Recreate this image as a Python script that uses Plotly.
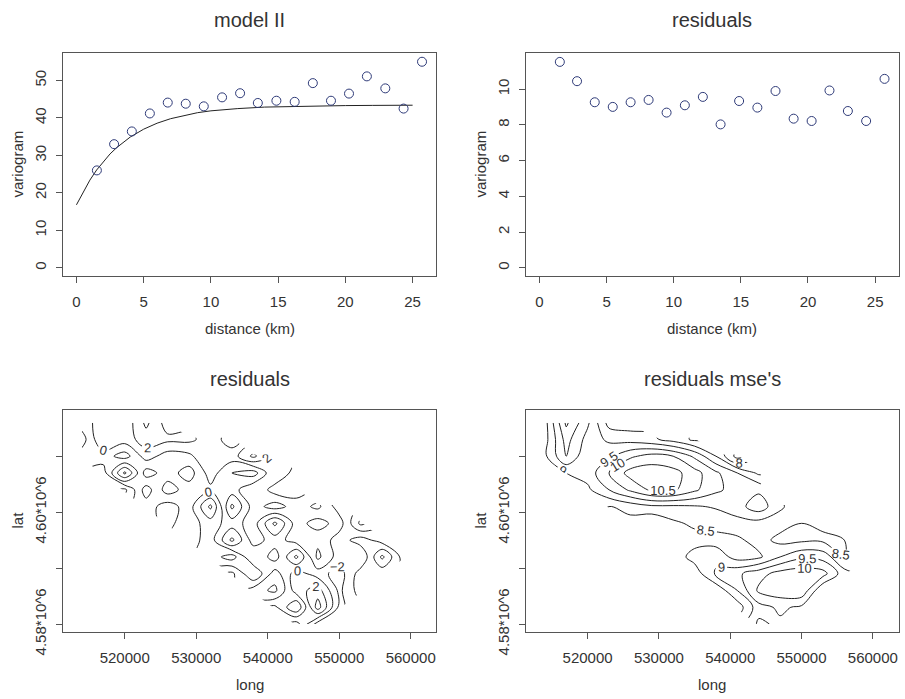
import plotly.graph_objects as go

# ---------------- data ----------------
distance_km = [1.52, 2.80, 4.12, 5.46, 6.79, 8.13, 9.47, 10.83, 12.17, 13.49,
               14.87, 16.23, 17.58, 18.93, 20.27, 21.60, 22.97, 24.33, 25.70]
variogram_model = [26.0, 33.0, 36.4, 41.2, 44.1, 43.8, 43.1, 45.5, 46.6, 44.0,
                   44.6, 44.3, 49.3, 44.6, 46.5, 51.1, 47.9, 42.5, 55.0]
variogram_resid = [11.53, 10.45, 9.27, 9.01, 9.27, 9.40, 8.69, 9.10, 9.57, 8.03,
                   9.34, 8.97, 9.90, 8.35, 8.22, 9.93, 8.78, 8.22, 10.58]
fit_distance = [0, 0.5, 1, 1.5, 2, 2.5, 3, 4, 5, 6, 7, 8, 9, 10, 12, 14, 16, 18, 20, 22, 25]
fit_variogram = [16.8, 20.3, 23.4, 26.1, 28.4, 30.4, 32.1, 34.9, 37.0, 38.6, 39.8,
                 40.7, 41.4, 41.9, 42.5, 42.9, 43.1, 43.25, 43.3, 43.35, 43.4]

grid_long = [514000, 517000, 520000, 523000, 526000, 529000, 532000, 535000,
             538000, 541000, 544000, 547000, 550000, 553000, 556000, 559000]
grid_lat = [4580000, 4583000, 4586000, 4589000, 4592000, 4595000, 4598000,
            4601000, 4604000, 4607000, 4610000, 4613000, 4616000]

N = None
residual_grid = [
    [N, N, N, N, N, N, N, N, N, N, 3, -3, N, N, N, N],
    [N, N, N, N, N, N, N, N, N, 0.5, -4, 5, -2.5, N, N, N],
    [N, N, N, N, N, N, N, N, -3, -4.5, 1, 3, -2.5, 1, N, N],
    [N, N, N, N, N, N, N, -2.5, 2, -3, 1, -1, -3, 1, 0.5, N],
    [N, N, N, N, N, N, 1, 3, -2, 1, -4.5, 2.5, -1, -2, 4.5, -1],
    [N, N, N, N, N, -1, 1, -4.5, 1, -1, 1, 1.5, -1, 1, -1, N],
    [N, N, N, N, 0.5, -1, 1, -1, 1, -4.5, 1, -1, 1, -4.5, N, N],
    [N, N, N, -1, 1, -1, 4.5, -4.5, 1, 3, 1, 2.5, -1, N, N, N],
    [N, N, -4.5, 1, -3, -1, -0.5, -1, 2, -1, -1, N, N, N, N, N],
    [N, -3, 4.5, -3, -1, -3, 1, -2, -3, 2, -1, N, N, N, N, N],
    [-1, -1, -3, 1, -1, -0.5, 2, 1, 4.5, 1, N, N, N, N, N, N],
    [-3, 2, 1, 3, 2.5, 2.5, 1, -1, N, N, N, N, N, N, N, N],
    [-1, 1, 0.5, 4.5, 1, N, N, N, N, N, N, N, N, N, N, N],
]
mse_grid = [
    [N, N, N, N, N, N, N, N, N, N, 9.6, 9.4, N, N, N, N],
    [N, N, N, N, N, N, N, N, N, 8.2, 9.3, 9.6, 9.4, N, N, N],
    [N, N, N, N, N, N, N, N, 8.1, 9.0, 10.1, 10.3, 10.4, 9.0, N, N],
    [N, N, N, N, N, N, N, 8.2, 9.1, 9.4, 9.8, 10.2, 10.3, 10.2, 9.2, N],
    [N, N, N, N, N, N, 8.2, 8.7, 8.8, 8.3, 8.4, 9.0, 9.4, 9.3, 8.5, 8.7],
    [N, N, N, N, N, 8.1, 8.5, 8.3, 8.3, 8.4, 8.7, 8.35, 8.4, 8.4, 8.5, N],
    [N, N, N, N, 8.3, 8.0, 8.4, 8.6, 8.7, 8.8, 8.8, 8.7, 8.5, 8.6, N, N],
    [N, N, N, 8.5, 8.7, 8.9, 8.9, 8.95, 9.05, 9.3, 9.8, 9.1, 8.6, N, N, N],
    [N, N, 8.9, 9.5, 10.1, 10.6, 10.6, 10.1, 9.6, 9.3, 9.4, N, N, N, N, N],
    [N, 9.0, 9.2, 10.0, 10.7, 10.8, 10.7, 10.2, 9.6, 9.0, 8.4, N, N, N, N, N],
    [8.9, 10.0, 9.1, 9.4, 9.9, 10.2, 10.0, 9.4, 8.5, 7.3, N, N, N, N, N, N],
    [8.8, 10.2, 9.3, 8.9, 8.8, 8.6, 8.3, 7.9, N, N, N, N, N, N, N, N],
    [8.8, 10.6, 9.6, 8.3, 8.2, N, N, N, N, N, N, N, N, N, N, N],
]
residual_levels = [-4, -2, 0, 2, 4]
mse_levels = [7.5, 8, 8.5, 9, 9.5, 10, 10.5]

panel_titles = ["model II", "residuals", "residuals", "residuals mse's"]

# ---------------- styling ----------------
FONT = "Liberation Sans, Arial, Helvetica, sans-serif"
TXT = "#333333"
AX = "#555555"

fig = go.Figure()

fig.add_trace(go.Scatter(x=fit_distance, y=fit_variogram, mode="lines",
                         line=dict(color="#222222", width=1),
                         xaxis="x", yaxis="y", showlegend=False))
fig.add_trace(go.Scatter(x=distance_km, y=variogram_model, mode="markers",
                         marker=dict(symbol="circle-open", size=9, color="#2e3a78",
                                     line=dict(width=1, color="#2e3a78")),
                         xaxis="x", yaxis="y", showlegend=False))
fig.add_trace(go.Scatter(x=distance_km, y=variogram_resid, mode="markers",
                         marker=dict(symbol="circle-open", size=9, color="#2e3a78",
                                     line=dict(width=1, color="#2e3a78")),
                         xaxis="x2", yaxis="y2", showlegend=False))

one_col = [[0, "#222222"], [1, "#222222"]]
for grid, levels, xa, ya in [(residual_grid, residual_levels, "x3", "y3"),
                             (mse_grid, mse_levels, "x4", "y4")]:
    for lev in levels:
        fig.add_trace(go.Contour(
            x=grid_long, y=grid_lat, z=grid,
            contours=dict(coloring="lines", start=lev, end=lev, size=1,
                          showlabels=True,
                          labelfont=dict(size=13, color=TXT, family=FONT)),
            colorscale=one_col, showscale=False, line=dict(width=1),
            connectgaps=False, hoverinfo="skip", xaxis=xa, yaxis=ya))

# reference geometry is measured on a 905x699 canvas; the page is laid out
# slightly taller so that the captured picture lines up with it
W, H_REF, H_PAGE = 905, 699, 724
def px_x(p):
    return p / W
def px_y(p):
    return 1 - p / H_REF

common = dict(showline=True, mirror=True, linecolor=AX, linewidth=1,
              ticks="outside", ticklen=6, tickcolor=AX, showgrid=False,
              zeroline=False, tickfont=dict(size=15, color=TXT, family=FONT))

top_y = [px_y(275), px_y(53)]
bot_y = [px_y(630), px_y(408.7)]
left_x = [px_x(63), px_x(436)]
right_x = [px_x(526), px_x(898.5)]

fig.update_layout(
    width=W, height=H_PAGE, autosize=False, margin=dict(l=0, r=0, t=0, b=0),
    paper_bgcolor="white", plot_bgcolor="white", showlegend=False,
    font=dict(family=FONT, color=TXT),
    xaxis=dict(domain=left_x, anchor="y", range=[-1.0, 26.74],
               tickvals=[0, 5, 10, 15, 20, 25], ticklabelstandoff=6, **common),
    yaxis=dict(domain=top_y, anchor="x", range=[-2.14, 57.3],
               tickvals=[0, 10, 20, 30, 40, 50], tickangle=-90, ticklabelstandoff=4, **common),
    xaxis2=dict(domain=right_x, anchor="y2", range=[-1.0, 26.74],
                tickvals=[0, 5, 10, 15, 20, 25], ticklabelstandoff=6, **common),
    yaxis2=dict(domain=top_y, anchor="x2", range=[-0.45, 12.02],
                tickvals=[0, 2, 4, 6, 8, 10], tickangle=-90, ticklabelstandoff=4, **common),
    xaxis3=dict(domain=left_x, anchor="y3", range=[511371, 563538],
                tickvals=[520000, 530000, 540000, 550000, 560000],
                ticktext=["520000", "530000", "540000", "550000", "560000"],
                ticklabelstandoff=6, **common),
    yaxis3=dict(domain=bot_y, anchor="x3", range=[4578620, 4618280],
                tickvals=[4580000, 4590000, 4600000, 4610000],
                ticktext=["4.58*10^6", "", "4.60*10^6", ""], tickangle=-90,
                ticklabelstandoff=4, **common),
    xaxis4=dict(domain=right_x, anchor="y4", range=[511360, 563600],
                tickvals=[520000, 530000, 540000, 550000, 560000],
                ticktext=["520000", "530000", "540000", "550000", "560000"],
                ticklabelstandoff=6, **common),
    yaxis4=dict(domain=bot_y, anchor="x4", range=[4578620, 4618280],
                tickvals=[4580000, 4590000, 4600000, 4610000],
                ticktext=["4.58*10^6", "", "4.60*10^6", ""], tickangle=-90,
                ticklabelstandoff=4, **common),
)

ann = []
title_pos = [(249.5, 20), (712, 20), (249.5, 378), (712, 378)]
for t, (cx, cy) in zip(panel_titles, title_pos):
    ann.append(dict(text=t, x=px_x(cx), y=px_y(cy), xref="paper", yref="paper",
                    showarrow=False, font=dict(size=20, color=TXT, family=FONT),
                    xanchor="center", yanchor="middle"))
xlabels = [("distance (km)", 249.5, 328), ("distance (km)", 712, 328),
           ("long", 249.5, 683), ("long", 712, 683)]
for t, cx, cy in xlabels:
    ann.append(dict(text=t, x=px_x(cx), y=px_y(cy), xref="paper", yref="paper",
                    showarrow=False, font=dict(size=15, color=TXT, family=FONT),
                    xanchor="center", yanchor="middle"))
ylabels = [("variogram", 17, 164), ("variogram", 480, 164),
           ("lat", 17, 519), ("lat", 480, 519)]
for t, cx, cy in ylabels:
    ann.append(dict(text=t, x=px_x(cx), y=px_y(cy), xref="paper", yref="paper",
                    showarrow=False, textangle=-90,
                    font=dict(size=15, color=TXT, family=FONT),
                    xanchor="center", yanchor="middle"))
fig.update_layout(annotations=ann)

fig.write_html("out.html",
               config={"responsive": False, "displayModeBar": False},
               post_script="document.body.style.margin='0px';document.body.style.overflow='hidden';")
